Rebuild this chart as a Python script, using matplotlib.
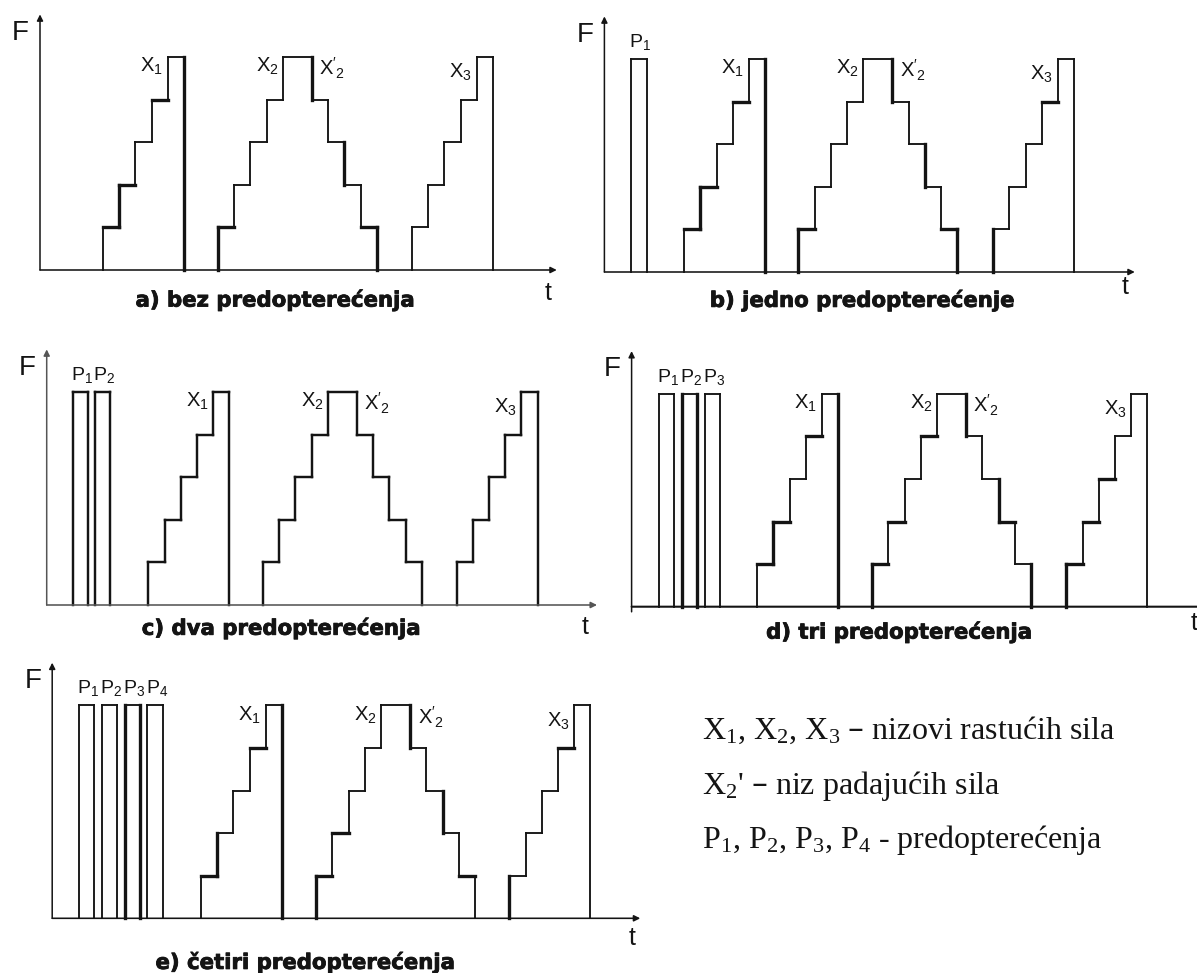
import matplotlib
matplotlib.use('Agg')
import matplotlib.pyplot as plt
import matplotlib.patheffects as pe

W, H = 1197, 973
fig = plt.figure(figsize=(W / 100, H / 100), dpi=100)
fig.patch.set_facecolor('white')

# ---------------- data ----------------
ramp_levels = [1, 2, 3, 4, 5]
ramp_durations = [1, 1, 1, 1, 1]
peak_levels = [1, 2, 3, 4, 5, 4, 3, 2, 1]
peak_durations = [1, 1, 1, 1, 1.8, 1, 1, 1, 1]
preload_level = 5
preload_width = 0.95

panel_titles = ['a) bez predopterećenja', 'b) jedno predopterećenje',
                'c) dva predopterećenja', 'd) tri predopterećenja',
                'e) četiri predopterećenja']
preload_starts = [[], [1.65], [1.60, 2.98], [1.69, 3.10, 4.51],
                  [1.66, 3.07, 4.47, 5.88]]
x1_starts = [3.89, 4.93, 6.28, 7.75, 9.18]
x2_starts = [10.99, 11.98, 13.35, 14.85, 16.30]
x3_starts = [22.96, 24.0, 25.3, 26.84, 28.22]
t_axis_end = [31.9, 32.74, 33.97, 35.5, 36.3]

series_labels = [r'$\mathregular{X_1}$', r'$\mathregular{X_2}$',
                 r"$\mathregular{X'_2}$", r'$\mathregular{X_3}$']
preload_labels = [r'$\mathregular{P_1}$', r'$\mathregular{P_2}$',
                  r'$\mathregular{P_3}$', r'$\mathregular{P_4}$']
legend_lines = [r'X$\mathregular{_1}$, X$\mathregular{_2}$, X$\mathregular{_3}$ – nizovi rastućih sila',
                r"X$\mathregular{_2}$' – niz padajućih sila",
                r'P$\mathregular{_1}$, P$\mathregular{_2}$, P$\mathregular{_3}$, P$\mathregular{_4}$ - predopterećenja']

# ---------------- layout (pixels) ----------------
U = 16.2      # px per time unit
V = 42.6      # px per force level
Y_TOP = 6.0
panel_origin = [(40, 270), (604.4, 272), (46.7, 605), (631.6, 606.7), (52.2, 918.3)]
caption_pos = [(14.5, -0.70), (15.9, -0.66), (14.46, -0.54), (16.5, -0.59), (15.6, -1.03)]
t_label_pos = [(31.36, -0.54), (32.14, -0.35), (33.26, -0.52), (34.7, -0.38), (35.8, -0.46)]

THIN, THICK = 1.35, 2.4
ramp1_thick = [[1, 2, 3, 7, 10], [1, 2, 3, 7, 10], [], [1, 2, 3, 7, 10], [1, 2, 7, 10]]
peak_thick = [[0, 1, 10, 14, 17, 18], [0, 1, 10, 14, 17, 18], [], [0, 1, 3, 7, 10, 14, 15, 18],
              [0, 1, 3, 10, 14, 17]]
ramp3_thick = [[], [0, 7], [], [0, 1, 3, 5], [0, 7]]
pre_thick = [[], [], [], [1], [2]]
INK = '#141414'


def block_points(t0, durations, levels):
    pts = [(t0, 0)]
    t = t0
    for d, L in zip(durations, levels):
        pts.append((t, L))
        pts.append((t + d, L))
        t += d
    pts.append((t, 0))
    return pts


def draw_block(ax, pts, thick_idx, base_lw):
    for i in range(len(pts) - 1):
        (xa, ya), (xb, yb) = pts[i], pts[i + 1]
        lw = THICK if i in thick_idx else base_lw
        ax.plot([xa, xb], [ya, yb], color=INK, lw=lw,
                solid_capstyle='projecting', clip_on=False)


LABEL_FONT = 'Liberation Sans'
heavy = [pe.withStroke(linewidth=0.6, foreground=INK)]

for p in range(5):
    ox, by = panel_origin[p]
    xmax = t_axis_end[p]
    ax = fig.add_axes([ox / W, 1 - by / H, xmax * U / W, Y_TOP * V / H])
    ax.set_xlim(0, xmax)
    ax.set_ylim(0, Y_TOP)
    ax.axis('off')
    base_lw = 1.75 if p == 2 else THIN
    axis_col = '#555555' if p == 2 else INK

    # axes with arrows
    ybot = -0.12 if p == 3 else 0
    ax.annotate('', xy=(0, Y_TOP), xytext=(0, ybot),
                arrowprops=dict(arrowstyle='-|>', lw=1.1, color=axis_col,
                                mutation_scale=9, shrinkA=0, shrinkB=0),
                annotation_clip=False)
    ax.annotate('', xy=(xmax, 0), xytext=(0, 0),
                arrowprops=dict(arrowstyle='-|>', lw=1.5 if p == 3 else 1.15,
                                color=axis_col, mutation_scale=9, shrinkA=0, shrinkB=0),
                annotation_clip=False)

    # preloads
    for k, s in enumerate(preload_starts[p]):
        pts = [(s, 0), (s, preload_level), (s + preload_width, preload_level),
               (s + preload_width, 0)]
        thick = [0, 2] if k in pre_thick[p] else []
        draw_block(ax, pts, thick, base_lw)
        ax.text(s - 0.12, preload_level + 0.16, preload_labels[k], family=LABEL_FONT,
                fontsize=14, ha='left', va='bottom', color=INK)

    # X1
    pts = block_points(x1_starts[p], ramp_durations, ramp_levels)
    draw_block(ax, pts, ramp1_thick[p], base_lw)
    top_start = x1_starts[p] + sum(ramp_durations[:-1])
    ax.text(top_start - 0.3, 5.02, series_labels[0], family=LABEL_FONT,
            fontsize=14.5, ha='right', va='top', color=INK)

    # X2 / X2'
    pts = block_points(x2_starts[p], peak_durations, peak_levels)
    draw_block(ax, pts, peak_thick[p], base_lw)
    plat_start = x2_starts[p] + sum(peak_durations[:4])
    plat_end = plat_start + peak_durations[4]
    ax.text(plat_start - 0.25, 5.02, series_labels[1], family=LABEL_FONT,
            fontsize=14.5, ha='right', va='top', color=INK)
    ax.text(plat_end + 0.45, 5.02, series_labels[2], family=LABEL_FONT,
            fontsize=14.5, ha='left', va='top', color=INK)

    # X3
    pts = block_points(x3_starts[p], ramp_durations, ramp_levels)
    draw_block(ax, pts, ramp3_thick[p], base_lw)
    top_start = x3_starts[p] + sum(ramp_durations[:-1])
    ax.text(top_start - 0.3, 4.88, series_labels[3], family=LABEL_FONT,
            fontsize=14.5, ha='right', va='top', color=INK)

    # axis letters
    ax.text(-1.2, 5.57, 'F', family=LABEL_FONT, fontsize=20, ha='center',
            va='center', color=INK)
    tx, ty = t_label_pos[p]
    ax.text(tx, ty, 't', family=LABEL_FONT, fontsize=18, ha='center',
            va='center', color=INK, clip_on=False)

    cx, cy = caption_pos[p]
    ax.text(cx, cy, panel_titles[p], family='DejaVu Sans', weight='heavy',
            fontsize=15.3, ha='center', va='center', color=INK, path_effects=heavy)

# legend text
legend_baselines = [739, 794, 848]
for line, yb in zip(legend_lines, legend_baselines):
    fig.text(702 / W, 1 - yb / H, line, family='Liberation Serif', fontsize=23,
             ha='left', va='baseline', color=INK)

fig.savefig('out.png', dpi=100, facecolor='white')
